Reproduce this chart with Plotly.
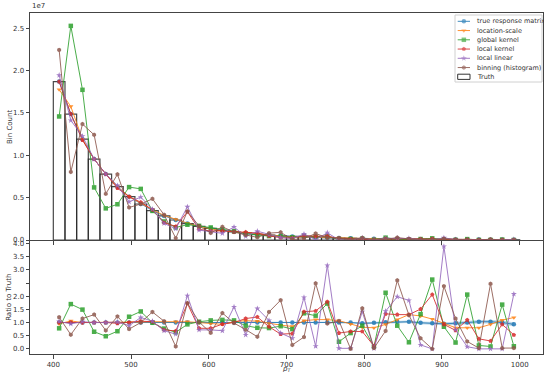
import plotly.graph_objects as go

# Binning in transverse momentum
bin_edges = list(range(400, 1001, 15))
centers = [(lo + hi) / 2 for lo, hi in zip(bin_edges[:-1], bin_edges[1:])]

# Truth-level bin counts (units of 1e7)
truth_1e7 = [1.870, 1.487, 1.190, 0.955, 0.778, 0.630, 0.512, 0.425, 0.347, 0.284,
             0.236, 0.194, 0.162, 0.137, 0.114, 0.096, 0.081, 0.068, 0.058, 0.049,
             0.042, 0.036, 0.031, 0.027, 0.023, 0.020, 0.017, 0.015, 0.013, 0.011,
             0.0098, 0.0086, 0.0075, 0.0066, 0.0058, 0.0051, 0.0045, 0.0040, 0.0035, 0.0031]

# Unfolded / truth ratio per method
ratio_true_response = [1.00, 1.00, 1.00, 1.00, 1.00, 1.00, 1.00, 1.00, 1.00, 1.00,
                       1.00, 1.00, 1.00, 1.00, 1.00, 1.00, 1.00, 1.00, 1.00, 1.00,
                       1.00, 1.00, 1.00, 1.01, 1.00, 1.00, 0.97, 0.99, 1.01, 1.03,
                       1.03, 0.99, 0.97, 0.95, 0.97, 1.00, 1.03, 1.03, 1.00, 0.93]
ratio_location_scale = [0.95, 1.06, 1.00, 1.00, 1.00, 1.00, 1.00, 1.02, 1.03, 1.02,
                        1.03, 1.03, 0.99, 0.96, 0.93, 1.03, 1.07, 1.05, 0.97, 0.90,
                        0.85, 1.07, 1.11, 1.11, 1.07, 0.94, 0.82, 0.80, 0.93, 1.11,
                        1.30, 1.25, 1.13, 0.97, 0.80, 0.80, 0.80, 0.93, 1.09, 1.19]
ratio_global_kernel = [0.78, 1.70, 1.49, 0.65, 0.48, 0.67, 1.22, 1.42, 0.99, 0.77,
                       0.63, 0.93, 1.03, 1.08, 1.10, 1.08, 0.88, 0.80, 0.79, 0.86,
                       0.75, 1.35, 1.26, 1.72, 0.27, 0.60, 0.88, 0.09, 2.13, 0.88,
                       0.25, 1.32, 2.63, 0.84, 0.24, 2.06, 0.13, 0.09, 1.68, 0.10]
ratio_local_kernel = [1.00, 1.00, 0.99, 1.00, 1.00, 0.97, 1.00, 1.05, 1.03, 0.72,
                      0.68, 1.72, 0.78, 0.78, 0.94, 1.00, 1.15, 1.21, 0.84, 0.56,
                      0.58, 1.41, 1.44, 1.79, 0.60, 0.66, 0.66, 0.11, 1.33, 1.30,
                      1.30, 1.51, 2.06, 0.93, 0.70, 1.10, 0.38, 0.30, 0.93, 0.53]
ratio_local_linear = [1.04, 0.95, 1.03, 1.00, 1.00, 1.02, 0.88, 1.19, 1.05, 0.69,
                      0.56, 2.02, 0.72, 0.72, 0.69, 1.59, 0.53, 1.53, 1.08, 0.60,
                      0.40, 1.95, 0.10, 3.17, 0.02, 0.02, 1.41, 0.02, 1.43, 1.98,
                      1.84, 0.15, 0.00, 3.89, 0.73, 0.08, 0.00, 0.00, 0.00, 2.08]
ratio_binning = [1.20, 0.54, 1.15, 1.30, 0.70, 1.23, 0.75, 1.00, 1.40, 1.05,
                 0.09, 1.74, 1.02, 0.61, 1.36, 0.98, 0.73, 0.46, 1.40, 1.85,
                 0.15, 0.45, 2.49, 0.96, 1.06, 0.00, 1.54, 0.03, 0.68, 2.60,
                 1.28, 0.40, 0.00, 2.38, 1.15, 0.28, 0.03, 2.47, 0.03, 0.03]

# Half-width of the uncertainty band on the true-response ratio
band_halfwidth = [0.005, 0.005, 0.006, 0.006, 0.007, 0.007, 0.008, 0.009, 0.010, 0.011,
                  0.012, 0.013, 0.014, 0.015, 0.016, 0.018, 0.019, 0.021, 0.023, 0.025,
                  0.027, 0.029, 0.031, 0.033, 0.035, 0.037, 0.040, 0.042, 0.045, 0.047,
                  0.050, 0.053, 0.055, 0.058, 0.061, 0.064, 0.067, 0.070, 0.073, 0.076]

method_names = ["true response matrix", "location-scale", "global kernel",
                "local kernel", "local linear", "binning (histogram)"]
method_ratios = [ratio_true_response, ratio_location_scale, ratio_global_kernel,
                 ratio_local_kernel, ratio_local_linear, ratio_binning]
colors = ["#1f77b4", "#ff7f0e", "#2ca02c", "#d62728", "#9467bd", "#8c564b"]
symbols = ["circle", "triangle-down", "square", "pentagon", "star", "hexagon"]

truth = [v * 1e7 for v in truth_1e7]

fig = go.Figure()

# Truth histogram as outlined bars
fig.add_trace(go.Bar(
    x=centers, y=truth, width=15, name="Truth", showlegend=False,
    marker=dict(color="rgba(255,255,255,0)", line=dict(color="rgba(40,40,40,0.85)", width=1.2)),
    xaxis="x", yaxis="y",
))

# Uncertainty band for the true response matrix ratio
fig.add_trace(go.Scatter(
    x=centers, y=[r + h for r, h in zip(ratio_true_response, band_halfwidth)],
    mode="lines", line=dict(width=0), showlegend=False, hoverinfo="skip",
    xaxis="x2", yaxis="y2",
))
fig.add_trace(go.Scatter(
    x=centers, y=[r - h for r, h in zip(ratio_true_response, band_halfwidth)],
    mode="lines", line=dict(width=0), fill="tonexty",
    fillcolor="rgba(31,119,180,0.3)", showlegend=False, hoverinfo="skip",
    xaxis="x2", yaxis="y2",
))


def marker_for(symbol, color):
    return dict(color=color, symbol=symbol, size=4.5, line=dict(width=0))


for name, ratio, color, symbol in zip(method_names, method_ratios, colors, symbols):
    counts = [t * r for t, r in zip(truth, ratio)]
    fig.add_trace(go.Scatter(
        x=centers, y=counts, mode="lines+markers", name=name, showlegend=False,
        line=dict(color=color, width=1), marker=marker_for(symbol, color), opacity=0.85,
        xaxis="x", yaxis="y",
    ))
    fig.add_trace(go.Scatter(
        x=centers, y=ratio, mode="lines+markers", name=name, showlegend=False,
        line=dict(color=color, width=1), marker=marker_for(symbol, color), opacity=0.85,
        xaxis="x2", yaxis="y2",
    ))

# Compact legend drawn on an overlay axis measured in figure pixels
legend_left, legend_right, legend_top, legend_bottom = 455, 542, 15, 82
row_y0, row_step = 21.3, 9.25
sample_x0, sample_x1, text_x = 457.7, 470, 474.5
shapes = [dict(type="rect", xref="x3", yref="y3", x0=legend_left, x1=legend_right,
               y0=legend_top, y1=legend_bottom, line=dict(color="#d0d0d0", width=1),
               fillcolor="rgba(255,255,255,0.85)", layer="below")]
annotations = []
legend_labels = method_names + ["Truth"]
for k, label in enumerate(legend_labels):
    yk = row_y0 + k * row_step
    if k < len(method_names):
        fig.add_trace(go.Scatter(
            x=[sample_x0, (sample_x0 + sample_x1) / 2, sample_x1], y=[yk, yk, yk],
            mode="lines+markers", showlegend=False, hoverinfo="skip", opacity=0.85,
            line=dict(color=colors[k], width=1),
            marker=dict(marker_for(symbols[k], colors[k]), size=[0, 4.5, 0]),
            xaxis="x3", yaxis="y3",
        ))
    else:
        shapes.append(dict(type="rect", xref="x3", yref="y3", x0=sample_x0, x1=sample_x1,
                           y0=yk - 2.6, y1=yk + 2.6, line=dict(color="#333", width=1),
                           fillcolor="rgba(0,0,0,0)"))
    annotations.append(dict(text=label, xref="x3", yref="y3", x=text_x, y=yk,
                            xanchor="left", yanchor="middle", showarrow=False,
                            font=dict(size=6.5, color="#333")))

axis_common = dict(
    showline=True, linecolor="#444", linewidth=1, mirror=True,
    ticks="outside", ticklen=3.5, tickcolor="#444", tickwidth=0.8,
    showgrid=False, zeroline=False,
    tickfont=dict(family="DejaVu Sans", size=7, color="#333"),
)

top_ticks = [0, 0.5e7, 1.0e7, 1.5e7, 2.0e7, 2.5e7]
ratio_ticks = [0.0, 0.5, 1.0, 1.5, 2.0, 2.5, 3.0, 3.5, 4.0]
ratio_labels = ["0.0", "0.5", "1.0", "1.5", "2.0", "", "3.0", "3.5", "4.0"]

annotations += [
    dict(text="1e7", xref="paper", yref="paper", x=0, y=1.003, xanchor="left",
         yanchor="bottom", showarrow=False, font=dict(size=7, color="#333")),
    dict(text="Bin Count", xref="paper", yref="paper", x=-0.04, y=0.667,
         textangle=-90, xanchor="center", yanchor="middle", showarrow=False,
         font=dict(size=7, color="#333")),
    dict(text="Ratio to Truth", xref="paper", yref="paper", x=-0.04, y=0.166,
         textangle=-90, xanchor="center", yanchor="middle", showarrow=False,
         font=dict(size=7, color="#333")),
    dict(text="<i>p</i><sub><i>T</i></sub>", xref="paper", yref="paper", x=0.5, y=-0.045,
         xanchor="center", yanchor="middle", showarrow=False,
         font=dict(size=7, color="#333")),
]

fig.update_layout(
    width=544, height=372,
    margin=dict(l=30, r=1, t=13, b=18),
    plot_bgcolor="rgba(0,0,0,0)", paper_bgcolor="white",
    barmode="overlay", showlegend=False,
    font=dict(family="DejaVu Sans", size=7, color="#333"),
    xaxis=dict(axis_common, domain=[0, 1], range=[370, 1030], anchor="y",
               showticklabels=False, tickvals=[400, 500, 600, 700, 800, 900, 1000]),
    yaxis=dict(axis_common, domain=[0.3343, 1], range=[0, 2.68e7], anchor="x",
               tickvals=top_ticks, ticktext=["0.0", "0.5", "1.0", "1.5", "2.0", "2.5"]),
    xaxis2=dict(axis_common, domain=[0, 1], range=[370, 1030], anchor="y2",
                tickvals=[400, 500, 600, 700, 800, 900, 1000], matches="x",
                ticklabelstandoff=0),
    yaxis2=dict(axis_common, domain=[0, 0.3314], range=[-0.195, 4.095], anchor="x2",
                tickvals=ratio_ticks, ticktext=ratio_labels),
    xaxis3=dict(domain=[0, 1], range=[30, 543], anchor="y3", visible=False, fixedrange=True),
    yaxis3=dict(domain=[0, 1], range=[354, 13], anchor="x3", visible=False, fixedrange=True),
    shapes=shapes,
    annotations=annotations,
)

fig.write_html("out.html")
